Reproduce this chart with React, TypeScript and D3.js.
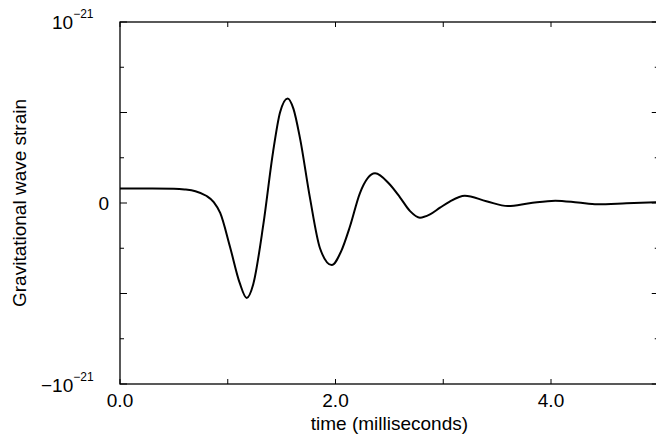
import React, { useRef, useEffect } from 'react';
import * as d3 from 'd3';

// time in milliseconds, strain in units of 1e-21
const times = [0.0, 0.3, 0.5, 0.6, 0.7, 0.8, 0.87, 0.93, 1.02, 1.11, 1.176, 1.236, 1.33, 1.42, 1.485, 1.556, 1.61, 1.67, 1.763, 1.856, 1.965, 2.05, 2.134, 2.227, 2.367, 2.5, 2.6, 2.692, 2.784, 2.877, 2.97, 3.06, 3.2, 3.4, 3.6, 3.8, 4.04, 4.25, 4.43, 4.7, 5.0];
const strain = [0.08, 0.08, 0.079, 0.075, 0.065, 0.04, 0.005, -0.055, -0.24, -0.44, -0.525, -0.45, -0.12, 0.28, 0.5, 0.578, 0.52, 0.36, 0.028, -0.25, -0.343, -0.27, -0.13, 0.055, 0.164, 0.105, 0.03, -0.045, -0.081, -0.063, -0.026, 0.008, 0.04, 0.01, -0.017, -0.002, 0.013, 0.003, -0.007, -0.002, 0.004];

const xTicks = [0, 1, 2, 3, 4, 5];
const xTickLabels = ['0.0', '', '2.0', '', '4.0', ''];
const yMajor = [-1, -0.5, 0, 0.5, 1];
const yMinor = [-0.75, -0.25, 0.25, 0.75];

const W = 656;
const H = 436;
const font = '"Liberation Sans", Arial, Helvetica, sans-serif';

const App = () => {
    const svgRef = useRef(null);

    useEffect(() => {
        const svg = d3.select(svgRef.current);
        svg.selectAll('*').remove();

        const x = d3.scaleLinear().domain([0, 5]).range([120, 658.75]);
        const y = d3.scaleLinear().domain([-1, 1]).range([384, 22]);
        const [x0, x1] = x.range();
        const [y0, y1] = y.range();

        // frame
        svg.append('rect')
            .attr('x', x0).attr('y', y1)
            .attr('width', x1 - x0).attr('height', y0 - y1)
            .attr('fill', 'none').attr('stroke', '#000').attr('stroke-width', 1.3);

        const g = svg.append('g').attr('stroke', '#000').attr('stroke-width', 1);

        // x ticks, bottom and top, pointing inward
        xTicks.forEach(t => {
            g.append('line').attr('x1', x(t)).attr('x2', x(t)).attr('y1', y0).attr('y2', y0 - 5);
            g.append('line').attr('x1', x(t)).attr('x2', x(t)).attr('y1', y1).attr('y2', y1 + 5);
        });

        // y ticks, left and right
        const yTick = (v, len) => {
            g.append('line').attr('x1', x0).attr('x2', x0 + len).attr('y1', y(v)).attr('y2', y(v));
            g.append('line').attr('x1', x1).attr('x2', x1 - len).attr('y1', y(v)).attr('y2', y(v));
        };
        yMajor.forEach(v => yTick(v, 7));
        yMinor.forEach(v => yTick(v, 4));

        // x tick labels
        svg.append('g')
            .selectAll('text')
            .data(xTicks)
            .join('text')
            .attr('x', d => x(d))
            .attr('y', 407)
            .attr('text-anchor', 'middle')
            .attr('font-family', font)
            .attr('font-size', 19)
            .text((d, i) => xTickLabels[i]);

        // y tick labels
        const yl = svg.append('g').attr('font-family', font).attr('font-size', 19);
        const top = yl.append('text').attr('x', 52).attr('y', 29);
        top.append('tspan').text('10');
        top.append('tspan').attr('dy', -11).attr('font-size', 12).text('\u221221');

        yl.append('text').attr('x', 109).attr('y', y(0) + 7).attr('text-anchor', 'end').text('0');

        const bot = yl.append('text').attr('x', 41).attr('y', 392);
        bot.append('tspan').text('\u221210');
        bot.append('tspan').attr('dy', -11).attr('font-size', 12).text('\u221221');

        // axis titles
        svg.append('text')
            .attr('x', (x0 + x1) / 2)
            .attr('y', 430)
            .attr('text-anchor', 'middle')
            .attr('font-family', font)
            .attr('font-size', 19)
            .text('time (milliseconds)');

        svg.append('text')
            .attr('transform', `translate(26, ${y(0)}) rotate(-90)`)
            .attr('text-anchor', 'middle')
            .attr('font-family', font)
            .attr('font-size', 19)
            .text('Gravitational wave strain');

        // waveform
        const line = d3.line()
            .x(d => x(d[0]))
            .y(d => y(d[1]))
            .curve(d3.curveMonotoneX);

        svg.append('path')
            .datum(times.map((t, i) => [t, strain[i]]))
            .attr('d', line)
            .attr('fill', 'none')
            .attr('stroke', '#000')
            .attr('stroke-width', 2);
    }, []);

    return (
        <svg ref={svgRef} width={W} height={H}
            style={{ position: 'absolute', left: 0, top: 0, background: '#fff' }} />
    );
};

export default App;
